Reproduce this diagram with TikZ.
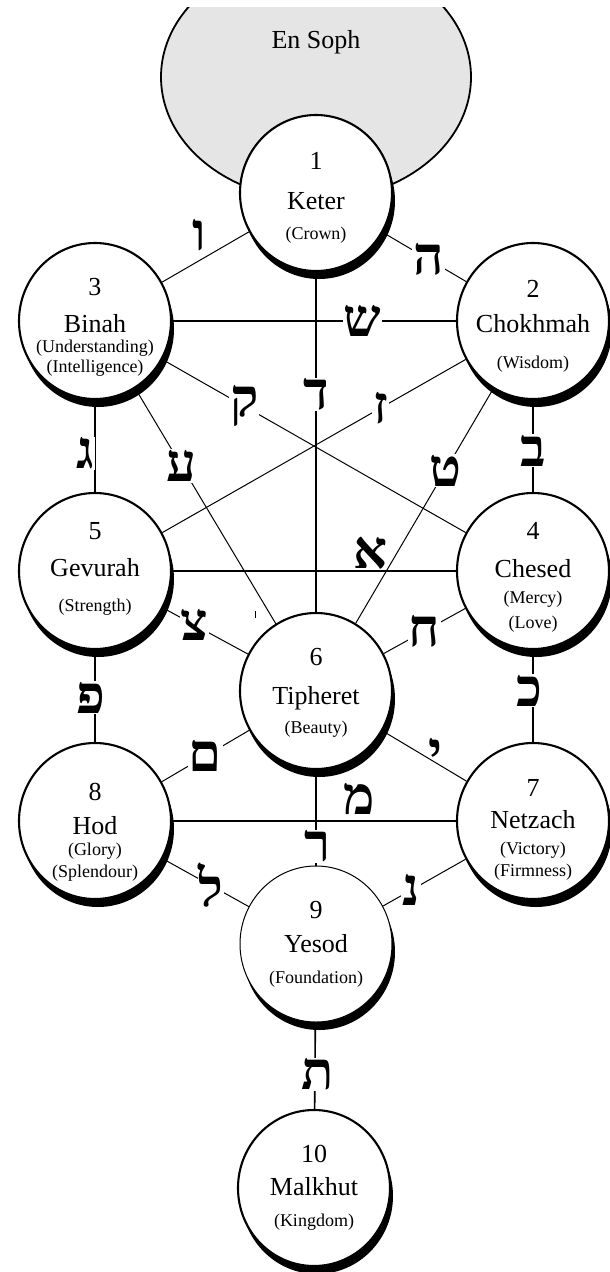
\documentclass[tikz,border=0pt]{standalone}
\usepackage{fontspec}
\setmainfont{Liberation Serif}
\newfontfamily\hebrewfont[Script=Hebrew]{Liberation Serif}
\usetikzlibrary{shapes.geometric,shadows}
\newcommand{\gloss}[1]{{\fontsize{18}{20}\selectfont #1}}

\begin{document}
\begin{tikzpicture}[x=1pt, y=-1pt,
  sefira/.style={ellipse, draw, line width=2.1pt, fill=white,
    minimum width=152pt, minimum height=156pt, inner sep=0pt,
    drop shadow={shadow xshift=3pt, shadow yshift=-8pt, fill=black, opacity=1}},
  sefiratext/.style={align=center, font=\fontsize{26}{30}\selectfont},
  letter/.style={font=\hebrewfont\bfseries\fontsize{53}{53}\selectfont, fill=white, inner sep=1pt},
  straight/.style={line width=1.6pt},
  slant/.style={line width=1pt}]
\useasboundingbox (0,0) rectangle (610,1272);

% en soph, cut at the top
\begin{scope}
\clip (0,7) rectangle (610,400);
\node[ellipse, draw, line width=1.8pt, fill=black!10, minimum width=310pt, minimum height=246pt] (ensoph) at (316,77) {};
\end{scope}
\node[font=\fontsize{26}{30}\selectfont] (ensophname) at (316,42) {En Soph};

% the ten sefirot
\node[sefira, label={[sefiratext, yshift=-5pt]center:{1\\[10pt]Keter\\\gloss{(Crown)}}}] (keter) at (316,193) {};
\node[sefira, label={[sefiratext, yshift=-5pt]center:{2\\[5pt]Chokhmah\\[6pt]\gloss{(Wisdom)}}}] (chokhmah) at (533,321) {};
\node[sefira, label={[sefiratext, yshift=-6pt]center:{3\\[7pt]Binah\\[-10pt]\gloss{(Understanding)}\\[-10pt]\gloss{(Intelligence)}}}] (binah) at (95,321) {};
\node[sefira, label={[sefiratext, yshift=-6pt]center:{4\\[8pt]Chesed\\[-4pt]\gloss{(Mercy)}\\[-5pt]\gloss{(Love)}}}] (chesed) at (533,571) {};
\node[sefira, label={[sefiratext, yshift=2pt]center:{5\\[7pt]Gevurah\\[5pt]\gloss{(Strength)}}}] (gevurah) at (95,571) {};
\node[sefira, label={[sefiratext, yshift=-2pt]center:{6\\[9pt]Tipheret\\[-1pt]\gloss{(Beauty)}}}] (tipheret) at (316,691) {};
\node[sefira, label={[sefiratext, yshift=-9pt]center:{7\\[2pt]Netzach\\[-4pt]\gloss{(Victory)}\\[-8pt]\gloss{(Firmness)}}}] (netzach) at (533,821) {};
\node[sefira, label={[sefiratext, yshift=-11pt]center:{8\\[4pt]Hod\\[-9pt]\gloss{(Glory)}\\[-8pt]\gloss{(Splendour)}}}] (hod) at (95,821) {};
\node[sefira, line width=1pt, label={[sefiratext]center:{9\\[4pt]Yesod\\[1pt]\gloss{(Foundation)}}}] (yesod) at (316,944) {};
\node[sefira, label={[sefiratext]center:{10\\[3pt]Malkhut\\[1pt]\gloss{(Kingdom)}}}] (malkhut) at (314,1188) {};

% paths
\draw[straight]
	(keter) edge node[letter, pos=.36]{ד} (tipheret)
	(binah) edge node[letter, pos=.67]{ש} (chokhmah)
	(chokhmah) edge node[letter, pos=.55]{ב} (chesed)
	(binah) edge node[letter, pos=.58, xshift=-10pt]{ג} (gevurah)
	(gevurah) edge node[letter, fill=none, pos=.7, yshift=18pt]{א} (chesed)
	(gevurah) edge node[letter, pos=.52, xshift=-4pt]{פ} (hod)
	(chesed) edge node[letter, pos=.44, xshift=-4pt]{כ} (netzach)
	(tipheret) edge node[letter, pos=.8, xshift=2pt]{ר} (yesod)
	(hod) edge node[letter, fill=none, pos=.66, yshift=22pt]{מ} (netzach)
	(yesod) edge node[letter, pos=.6, xshift=3pt]{ת} (malkhut)
;
\draw[slant]
	(keter) edge node[letter, pos=.55]{ה} (chokhmah)
	(keter) edge node[letter, fill=none, pos=.45, xshift=-11pt, yshift=19pt]{ו} (binah)
	(binah) edge node[letter, pos=.27]{ק} (chesed)
	(chokhmah) edge node[letter, pos=.28]{ז} (gevurah)
	(binah) edge node[letter, pos=.33]{ע} (tipheret)
	(chokhmah) edge node[letter, pos=.35]{ט} (tipheret)
	(gevurah) edge node[letter, pos=.37]{צ} (tipheret)
	(chesed) edge node[letter, pos=.5]{ח} (tipheret)
	(tipheret) edge node[letter, pos=.5]{ם} (hod)
	(tipheret) edge node[letter, fill=none, pos=.6, xshift=3pt, yshift=7pt]{י} (netzach)
	(hod) edge node[letter, pos=.56]{ל} (yesod)
	(netzach) edge node[letter, pos=.66]{נ} (yesod)
;
\draw[slant] (255,611) -- (255,618);
\end{tikzpicture}
\end{document}
